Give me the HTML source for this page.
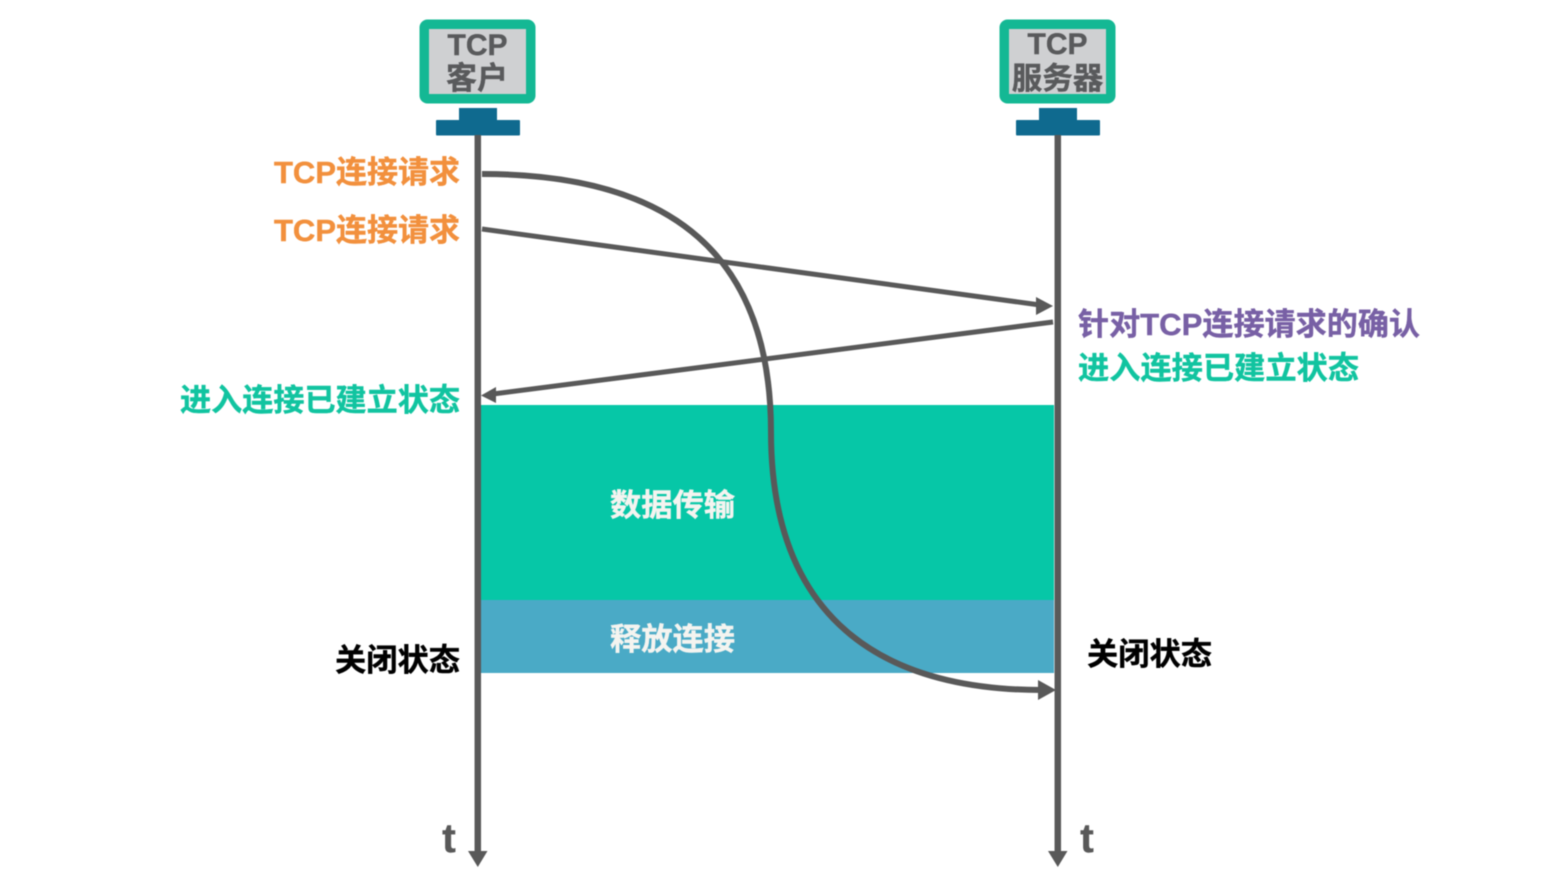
<!DOCTYPE html>
<html><head><meta charset="utf-8"><style>
html,body{margin:0;padding:0;background:#fff;width:1548px;height:878px;overflow:hidden}
svg{display:block;filter:blur(.4px)}
text{font-family:"Liberation Sans","Noto Sans CJK SC",sans-serif;font-weight:700;stroke-width:.4px}
</style></head><body>
<svg width="1548" height="878" viewBox="0 0 1548 878" xmlns="http://www.w3.org/2000/svg">
<rect x="480" y="405" width="574" height="195" fill="#06c7a7"/>
<rect x="480" y="600" width="574" height="73" fill="#4aaac6"/>
<!-- monitors -->
<g>
<rect x="419.500" y="19.500" width="116" height="84" rx="8" fill="#14b894"/>
<rect x="429" y="29" width="97" height="65" fill="#cfd0d2"/>
<rect x="459" y="108" width="38" height="14" fill="#0f6a8f"/>
<rect x="436" y="120" width="84" height="15.500" rx="1" fill="#0f6a8f"/>
<rect x="999.500" y="19.500" width="116" height="84" rx="8" fill="#14b894"/>
<rect x="1009" y="29" width="97" height="65" fill="#cfd0d2"/>
<rect x="1039" y="108" width="38" height="14" fill="#0f6a8f"/>
<rect x="1016" y="120" width="84" height="15.500" rx="1" fill="#0f6a8f"/>
</g>
<text x="477.500" y="55" font-size="30" fill="#595a5c" stroke="#595a5c" text-anchor="middle">TCP</text>
<text x="477" y="89" font-size="31" fill="#595a5c" stroke="#595a5c" text-anchor="middle">客户</text>
<text x="1057.500" y="54" font-size="30" fill="#595a5c" stroke="#595a5c" text-anchor="middle">TCP</text>
<text x="1057.500" y="89" font-size="30.500" fill="#595a5c" stroke="#595a5c" text-anchor="middle">服务器</text>
<!-- lifelines -->
<path d="M477.800 135V854" stroke="#595959" stroke-width="6.500" fill="none"/>
<path d="M1057.800 135V854" stroke="#595959" stroke-width="6.500" fill="none"/>
<polygon points="468,851 487.500,851 477.800,867" fill="#595959"/>
<polygon points="1048,851 1067.500,851 1057.800,867" fill="#595959"/>
<!-- arrows -->
<path d="M482 229L1040 305" stroke="#595959" stroke-width="5" fill="none"/>
<polygon points="1053,306 1036,297 1036,315" fill="#595959"/>
<path d="M1053 322L493 394" stroke="#595959" stroke-width="5" fill="none"/>
<polygon points="481,395.500 496,387 496,403" fill="#595959"/>
<path d="M482 174C 674 174 771 257 771 432C 771 602 863 690 1042 690" stroke="#595959" stroke-width="6" fill="none"/>
<polygon points="1056,690 1038,680 1038,700" fill="#595959"/>
<!-- labels -->
<text x="274" y="183" font-size="31" fill="#f2903d" stroke="#f2903d" textLength="186" lengthAdjust="spacingAndGlyphs">TCP连接请求</text>
<text x="274" y="241" font-size="31" fill="#f2903d" stroke="#f2903d" textLength="186" lengthAdjust="spacingAndGlyphs">TCP连接请求</text>
<text x="1078" y="335" font-size="31" fill="#7860a5" stroke="#7860a5" textLength="342" lengthAdjust="spacingAndGlyphs">针对TCP连接请求的确认</text>
<text x="1078" y="379" font-size="31" fill="#11c4a0" stroke="#11c4a0" textLength="281" lengthAdjust="spacingAndGlyphs">进入连接已建立状态</text>
<text x="180" y="411" font-size="31" fill="#11c4a0" stroke="#11c4a0" textLength="280" lengthAdjust="spacingAndGlyphs">进入连接已建立状态</text>
<text x="610" y="516" font-size="31" fill="#f4f4f0" stroke="#f4f4f0" textLength="125" lengthAdjust="spacingAndGlyphs">数据传输</text>
<text x="610" y="650" font-size="31" fill="#f4f4f0" stroke="#f4f4f0" textLength="125" lengthAdjust="spacingAndGlyphs">释放连接</text>
<text x="335" y="671" font-size="31" fill="#000" stroke="#000" textLength="125" lengthAdjust="spacingAndGlyphs">关闭状态</text>
<text x="1087" y="665" font-size="31" fill="#000" stroke="#000" textLength="125" lengthAdjust="spacingAndGlyphs">关闭状态</text>
<text x="449" y="852" font-size="41" fill="#595959" stroke="#595959" stroke-width="1" text-anchor="middle">t</text>
<text x="1087" y="852" font-size="41" fill="#595959" stroke="#595959" stroke-width="1" text-anchor="middle">t</text>
</svg>
</body></html>
